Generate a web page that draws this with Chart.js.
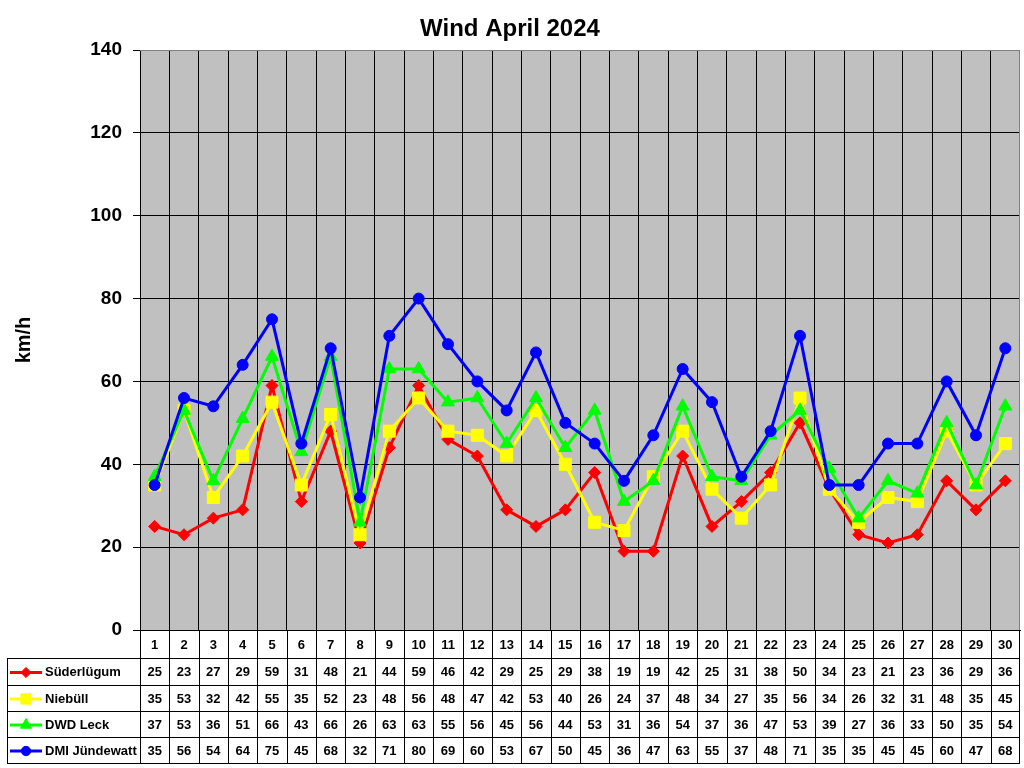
<!DOCTYPE html>
<html>
<head>
<meta charset="utf-8">
<script src="https://cdn.jsdelivr.net/npm/chart.js@4.4.1/dist/chart.umd.min.js"></script>
<style>
html,body{margin:0;padding:0;background:#fff;}
#wrap{width:1024px;height:768px;}
</style>
</head>
<body>
<div id="wrap"><canvas id="c" width="1024" height="768"></canvas></div>
<script>
const days = ["1","2","3","4","5","6","7","8","9","10","11","12","13","14","15","16","17","18","19","20","21","22","23","24","25","26","27","28","29","30"];
const suederluegum = [25,23,27,29,59,31,48,21,44,59,46,42,29,25,29,38,19,19,42,25,31,38,50,34,23,21,23,36,29,36];
const niebuell = [35,53,32,42,55,35,52,23,48,56,48,47,42,53,40,26,24,37,48,34,27,35,56,34,26,32,31,48,35,45];
const dwdLeck = [37,53,36,51,66,43,66,26,63,63,55,56,45,56,44,53,31,36,54,37,36,47,53,39,27,36,33,50,35,54];
const dmiJuendewatt = [35,56,54,64,75,45,68,32,71,80,69,60,53,67,50,45,36,47,63,55,37,48,71,35,35,45,45,60,47,68];
const seriesNames = ["Süderlügum","Niebüll","DWD Leck","DMI Jündewatt"];
const yTicks = [0,20,40,60,80,100,120,140];

const FONT = '"Liberation Sans", Arial, sans-serif';
const colors = ['#FF0000','#FFFF00','#00FF00','#0000FF'];
const styles = ['rectRot','rect','triangle','circle'];
const radii = [6,8.5,7.5,5.5];
const seriesData = [suederluegum, niebuell, dwdLeck, dmiJuendewatt];

function drawMarker(ctx, style, r, x, y, color){
  ctx.save();
  ctx.fillStyle = color; ctx.strokeStyle = color; ctx.lineWidth = 1;
  ctx.beginPath();
  if (style === 'circle') { ctx.arc(x, y, r, 0, Math.PI*2); }
  else if (style === 'rect') { const s = r*Math.SQRT1_2; ctx.rect(x-s, y-s, 2*s, 2*s); }
  else if (style === 'rectRot') { ctx.moveTo(x-r,y); ctx.lineTo(x,y-r); ctx.lineTo(x+r,y); ctx.lineTo(x,y+r); ctx.closePath(); }
  else if (style === 'triangle') {
    const w = r*Math.sqrt(3)/2;
    ctx.moveTo(x, y-r); ctx.lineTo(x+w, y+r/2); ctx.lineTo(x-w, y+r/2); ctx.closePath();
  }
  ctx.fill(); ctx.stroke();
  ctx.restore();
}

const bgPlugin = {
  id: 'bg',
  beforeDraw(chart){
    const {ctx, chartArea:a} = chart;
    ctx.save();
    ctx.fillStyle = '#fff';
    ctx.fillRect(0,0,chart.width,chart.height);
    ctx.fillStyle = '#C0C0C0';
    ctx.fillRect(a.left, a.top, a.right-a.left, a.bottom-a.top);
    ctx.restore();
  },
  beforeDatasetsDraw(chart){
    const {ctx, chartArea:a} = chart;
    ctx.save();
    ctx.strokeStyle = '#808080'; ctx.lineWidth = 1;
    ctx.beginPath();
    ctx.moveTo(a.left, a.top+0.5); ctx.lineTo(a.right-0.5, a.top+0.5); ctx.lineTo(a.right-0.5, a.bottom);
    ctx.stroke();
    ctx.restore();
  },
  afterDraw(chart){
    const {ctx, chartArea:a} = chart;
    const xs = chart.scales.x;
    const n = days.length;
    const cw = (a.right - a.left)/n;
    const rows = [658, 685, 711, 737, 763];
    ctx.save();
    ctx.strokeStyle = '#000'; ctx.lineWidth = 1;
    ctx.beginPath();
    for (let i=0;i<=n;i++){
      let x = Math.round(a.left + i*cw) + 0.5;
      if (i===n) x = Math.round(a.right) - 0.5;
      ctx.moveTo(x, a.bottom); ctx.lineTo(x, rows[4]);
    }
    ctx.moveTo(7.5, rows[0]); ctx.lineTo(7.5, rows[4]);
    rows.forEach(y => { ctx.moveTo(7, y+0.5); ctx.lineTo(Math.round(a.right), y+0.5); });
    ctx.stroke();
    ctx.fillStyle = '#000';
    ctx.font = 'bold 13px ' + FONT;
    ctx.textAlign = 'center'; ctx.textBaseline = 'middle';
    days.forEach((d,i)=>{
      const cx = xs.getPixelForValue(i);
      ctx.fillText(d, cx, (a.bottom + rows[0])/2 + 1);
    });
    seriesData.forEach((arr, s)=>{
      const cy = (rows[s] + rows[s+1])/2 + 1;
      ctx.textAlign = 'center';
      arr.forEach((v,i)=>{ ctx.fillText(String(v), xs.getPixelForValue(i), cy); });
      ctx.save();
      ctx.strokeStyle = colors[s]; ctx.lineWidth = 3;
      ctx.beginPath(); ctx.moveTo(10, cy); ctx.lineTo(42, cy); ctx.stroke();
      ctx.restore();
      drawMarker(ctx, styles[s], radii[s]*0.85, 26, cy, colors[s]);
      ctx.textAlign = 'left';
      ctx.fillText(seriesNames[s], 45, cy);
    });
    ctx.restore();
  }
};

const datasets = seriesData.map((arr, s) => ({
  label: seriesNames[s],
  data: arr,
  borderColor: colors[s],
  backgroundColor: colors[s],
  borderWidth: 3,
  pointStyle: styles[s],
  pointRadius: radii[s],
  pointBorderWidth: 1,
  pointBackgroundColor: colors[s],
  pointBorderColor: colors[s],
  tension: 0,
  order: 4 - s
}));

new Chart(document.getElementById('c'), {
  type: 'line',
  data: { labels: days, datasets },
  plugins: [bgPlugin],
  options: {
    responsive: false,
    animation: false,
    devicePixelRatio: 1,
    layout: { autoPadding: false, padding: { left: 0, right: 4, top: 0, bottom: 0 } },
    plugins: {
      legend: { display: false },
      tooltip: { enabled: false },
      title: {
        display: true,
        text: 'Wind April 2024',
        color: '#000',
        font: { family: FONT, size: 24, weight: 'bold' },
        padding: { top: 15, bottom: 6.2 }
      }
    },
    scales: {
      x: {
        type: 'category',
        offset: true,
        afterFit(s){ s.height = 138; },
        ticks: { display: false },
        grid: { color: '#000', lineWidth: 1, offset: true, drawTicks: false },
        border: { color: '#000', width: 1 }
      },
      y: {
        min: 0, max: 140,
        afterFit(s){ s.width = 140; },
        afterBuildTicks(s){ s.ticks = yTicks.map(v => ({ value: v })); },
        ticks: { color: '#000', font: { family: FONT, size: 19, weight: 'bold' }, padding: 11 },
        grid: {
          color: ctx => (ctx.tick && ctx.tick.value === 140) ? '#808080' : '#000',
          lineWidth: 1, tickLength: 7, drawTicks: true, tickColor: '#000'
        },
        border: { color: '#000', width: 1 },
        title: {
          display: true, text: 'km/h', color: '#000',
          font: { family: FONT, size: 20, weight: 'bold' },
          padding: { top: 12, bottom: 0 }
        }
      }
    }
  }
});
</script>
</body>
</html>
